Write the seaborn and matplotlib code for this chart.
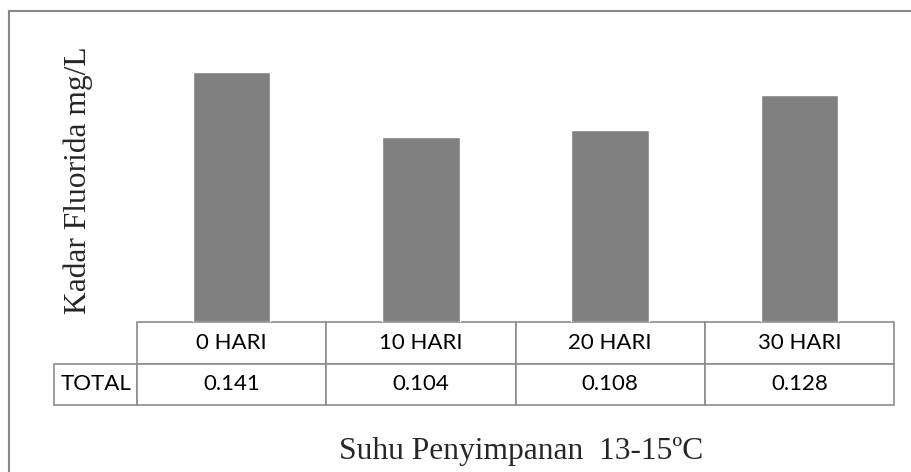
import matplotlib
matplotlib.use("Agg")
import matplotlib.pyplot as plt
import seaborn as sns
import pandas as pd
from matplotlib.patches import Rectangle

days = ['0 HARI', '10 HARI', '20 HARI', '30 HARI']
fluoride = [0.141, 0.104, 0.108, 0.128]
row_label = 'TOTAL'
y_label = 'Kadar Fluorida mg/L'
x_label = 'Suhu Penyimpanan  13-15ºC'

W, H = 911, 472
sns.set_style('white')
plt.rcParams['font.family'] = ['Liberation Serif', 'DejaVu Serif']

df = pd.DataFrame({'hari': days, 'kadar': fluoride})

fig = plt.figure(figsize=(W / 100, H / 100), dpi=100)
# plot area in pixels: x 137..894, y 38..322
ax = fig.add_axes([137 / W, 1 - 322 / H, (894 - 137) / W, (322 - 38) / H])

sns.barplot(data=df, x='hari', y='kadar', color='#808080', saturation=1,
            width=0.41, ax=ax)
ax.set_ylim(0, 0.16)
ax.set_xticks([])
ax.set_yticks([])
sns.despine(ax=ax, left=True, bottom=True)

ax.set_ylabel(y_label, fontsize=22.7)
ax.yaxis.set_label_coords(-(137 - 93) / 757, 0.5)
ax.set_xlabel(x_label, fontsize=22.7)
ax.xaxis.set_label_coords(0.507, -(437 - 322) / 284)

# data table under the bars (first column holds the row label)
cells = [[''] + days, [row_label] + [f'{v:.3f}' for v in fluoride]]
tbl = ax.table(cellText=cells, cellLoc='center',
               colWidths=[83, 189, 189, 189, 189],
               bbox=[-(137 - 54) / 757, -(405 - 322) / 284,
                     (894 - 54) / 757, (405 - 322) / 284])
tbl.auto_set_font_size(False)
for key, cell in tbl.get_celld().items():
    cell.set_edgecolor('#8c8c8c')
    cell.set_linewidth(1.2)
    cell.get_text().set_fontfamily(['Lato', 'DejaVu Sans'])
    cell.get_text().set_fontsize(16)
    cell.get_text().set_color('black')
tbl[(0, 0)].visible_edges = ''
tbl[(1, 0)]._loc = 'left'
tbl[(1, 0)].PAD = 0.07

# outer frame (only top and left edges visible in the crop)
fig.add_artist(Rectangle((9 / W, -0.1), 1.2, 1.1 - 11 / H,
                         transform=fig.transFigure, fill=False,
                         edgecolor='#878787', linewidth=1.5, clip_on=False))

fig.savefig('out.png', dpi=100)
